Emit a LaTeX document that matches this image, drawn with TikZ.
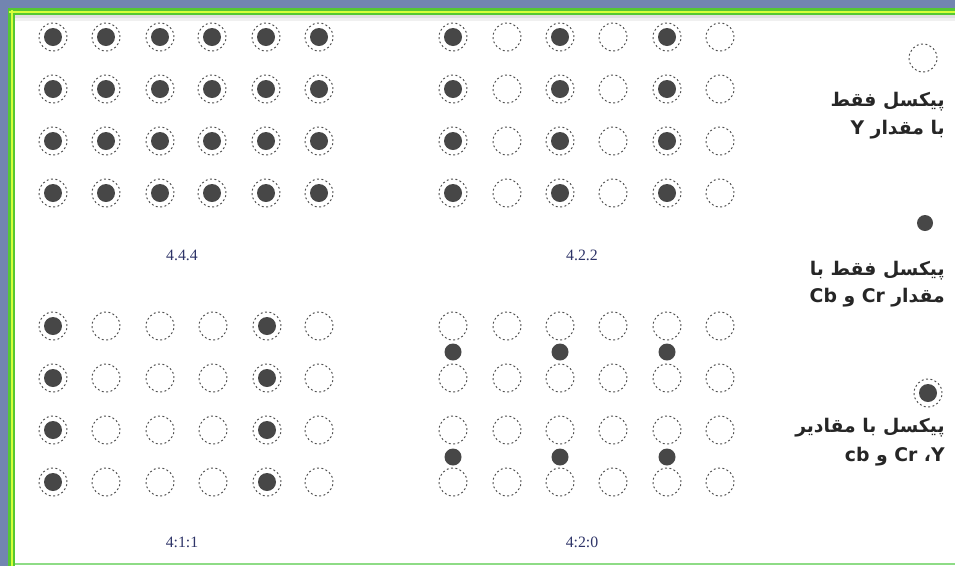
\documentclass[tikz,border=0pt]{standalone}
\usepackage{fontspec}
\setmainfont{Liberation Serif}
\newfontfamily\arabicfont[Script=Arabic]{DejaVu Sans}
\TeXXeTstate=1
\definecolor{bandblue}{HTML}{7285B0}
\definecolor{bgreen}{HTML}{55C832}
\definecolor{blime}{HTML}{D6FF3A}
\definecolor{bbot}{HTML}{8EDC86}
\definecolor{dotgray}{HTML}{474747}
\definecolor{ringgray}{HTML}{505050}
\definecolor{lblcol}{HTML}{2E3468}
\begin{document}
\begin{tikzpicture}[x=0.02cm,y=-0.02cm,
  ring/.style={circle, draw=ringgray, dash pattern=on 1.1pt off 1.4pt, line width=0.55pt, minimum size=0.56cm, inner sep=0pt},
  dotc/.style={circle, fill=dotgray, minimum size=0.36cm, inner sep=0pt},
  smalldot/.style={circle, fill=dotgray, minimum size=0.34cm, inner sep=0pt},
  lbl/.style={font=\fontsize{9}{10}\selectfont, text=lblcol},
  ptxt/.style={font=\arabicfont\bfseries\fontsize{10.7}{12}\selectfont, text=black!85, anchor=east, inner sep=0pt}]
\useasboundingbox (0,0) rectangle (955,566);
\fill[white] (0,0) rectangle (955,566);
% frame
\fill[bandblue] (0,0) rectangle (955,8);
\fill[bandblue] (0,0) rectangle (8,566);
\fill[black!12] (14,14) rectangle (955,18);
\fill[black!6] (14,18) rectangle (955,21);
\fill[bgreen] (8,8) rectangle (955,15);
\fill[bgreen] (8,8) rectangle (15,566);
\fill[blime] (9,10.5) rectangle (955,12.5);
\fill[blime] (10.5,10) rectangle (12.5,566);
\fill[bbot] (15,562.5) rectangle (955,565);
% 4:4:4
\foreach \c/\x in {1/53,2/106,3/160,4/212,5/266,6/319}{
  \foreach \r/\y in {1/37,2/89,3/141,4/193}{
    \node[ring] (a\r\c) at (\x,\y) {};
    \node[dotc] (ad\r\c) at (\x,\y) {};
  }
}
% 4:2:2
\foreach \c/\x in {1/453,2/507,3/560,4/613,5/667,6/720}{
  \foreach \r/\y in {1/37,2/89,3/141,4/193}{
    \node[ring] (b\r\c) at (\x,\y) {};
  }
}
\foreach \c/\x in {1/453,3/560,5/667}{
  \foreach \r/\y in {1/37,2/89,3/141,4/193}{
    \node[dotc] (bd\r\c) at (\x,\y) {};
  }
}
% 4:1:1
\foreach \c/\x in {1/53,2/106,3/160,4/213,5/267,6/319}{
  \foreach \r/\y in {1/326,2/378,3/430,4/482}{
    \node[ring] (c\r\c) at (\x,\y) {};
  }
}
\foreach \c/\x in {1/53,5/267}{
  \foreach \r/\y in {1/326,2/378,3/430,4/482}{
    \node[dotc] (cd\r\c) at (\x,\y) {};
  }
}
% 4:2:0
\foreach \c/\x in {1/453,2/507,3/560,4/613,5/667,6/720}{
  \foreach \r/\y in {1/326,2/378,3/430,4/482}{
    \node[ring] (d\r\c) at (\x,\y) {};
  }
}
\foreach \c/\x in {1/453,3/560,5/667}{
  \foreach \r/\y in {1/352,2/457}{
    \node[smalldot] (dd\r\c) at (\x,\y) {};
  }
}
% labels
\node[lbl] (l444) at (182,255) {4.4.4};
\node[lbl] (l422) at (582,255) {4.2.2};
\node[lbl] (l411) at (182,542) {4:1:1};
\node[lbl] (l420) at (582,542) {4:2:0};
% legend
\node[ring] (g1) at (923,58) {};
\node[ptxt] (t1a) at (945,102) {\beginR پیکسل فقط\endR};
\node[ptxt] (t1b) at (945,130) {\beginR با مقدار Y\endR};
\node[dotc, minimum size=0.32cm] (g2) at (925,223) {};
\node[ptxt] (t2a) at (945,271) {\beginR پیکسل فقط با\endR};
\node[ptxt] (t2b) at (945,298) {\beginR مقدار Cr و Cb\endR};
\node[ring] (g3) at (928,393) {};
\node[dotc] (g3d) at (928,393) {};
\node[ptxt] (t3a) at (945,428) {\beginR پیکسل با مقادیر\endR};
\node[ptxt] (t3b) at (945,457) {\beginR Y\kern0pt ، Cr و cb\endR};
\end{tikzpicture}
\end{document}
